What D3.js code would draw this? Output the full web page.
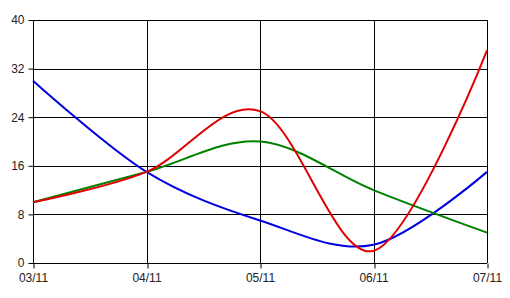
<!DOCTYPE html>
<html>
<head>
<meta charset="utf-8">
<script src="https://cdn.jsdelivr.net/npm/d3@7"></script>
<style>
  body { margin: 0; background: #fff; }
  .axis text { font-family: 'Liberation Sans', Arial, sans-serif; font-size: 12px; fill: #222; }
  .axis path, .axis line { stroke: #000; }
</style>
</head>
<body>
<div id="chart"></div>
<script>
const dates = ['03/11', '04/11', '05/11', '06/11', '07/11']
const blueValues = [30, 15, 7, 3, 15]
const greenValues = [10, 15, 20, 12, 5]
const redValues = [10, 15, 25, 2, 35]
const yTicks = [0, 8, 16, 24, 32, 40]

const width = 510
const height = 298
const margin = { top: 20, right: 23, bottom: 35, left: 33 }

const svg = d3.select('#chart')
  .append('svg')
  .attr('width', width)
  .attr('height', height)

const xScale = d3.scalePoint()
  .domain(dates)
  .range([margin.left, width - margin.right])

const yScale = d3.scaleLinear()
  .domain([0, 40])
  .range([height - margin.bottom, margin.top])

// grid
svg.append('g')
  .selectAll('line')
  .data(yTicks)
  .enter().append('line')
  .attr('x1', margin.left)
  .attr('x2', width - margin.right)
  .attr('y1', d => Math.round(yScale(d)) + 0.5)
  .attr('y2', d => Math.round(yScale(d)) + 0.5)
  .attr('stroke', '#000')

svg.append('g')
  .selectAll('line')
  .data(dates)
  .enter().append('line')
  .attr('x1', d => Math.round(xScale(d)) + 0.5)
  .attr('x2', d => Math.round(xScale(d)) + 0.5)
  .attr('y1', margin.top)
  .attr('y2', height - margin.bottom)
  .attr('stroke', '#000')

// axes
svg.append('g')
  .attr('class', 'axis')
  .attr('transform', `translate(0,${Math.round(height - margin.bottom) + 0.5})`)
  .call(d3.axisBottom(xScale).tickSize(5).tickPadding(5).tickSizeOuter(0))
  .call(g => g.select('.domain').remove())
  .selectAll('line').attr('transform', d => `translate(${Math.round(xScale(d)) + 0.5 - xScale(d)},0)`)

svg.append('g')
  .attr('class', 'axis')
  .attr('transform', `translate(${margin.left + 0.5},0)`)
  .call(d3.axisLeft(yScale).tickValues(yTicks).tickSize(5).tickPadding(4).tickSizeOuter(0))
  .call(g => g.select('.domain').remove())

const line = d3.line()
  .x((d, i) => xScale(dates[i]))
  .y(d => yScale(d))
  .curve(d3.curveCardinal.tension(0))

const series = [
  { values: blueValues, color: '#0000e0' },
  { values: greenValues, color: '#008000' },
  { values: redValues, color: '#e00000' }
]

svg.selectAll('.series')
  .data(series)
  .enter().append('path')
  .attr('class', 'series')
  .attr('d', d => line(d.values))
  .attr('fill', 'none')
  .attr('stroke', d => d.color)
  .attr('stroke-width', 2)
</script>
</body>
</html>
